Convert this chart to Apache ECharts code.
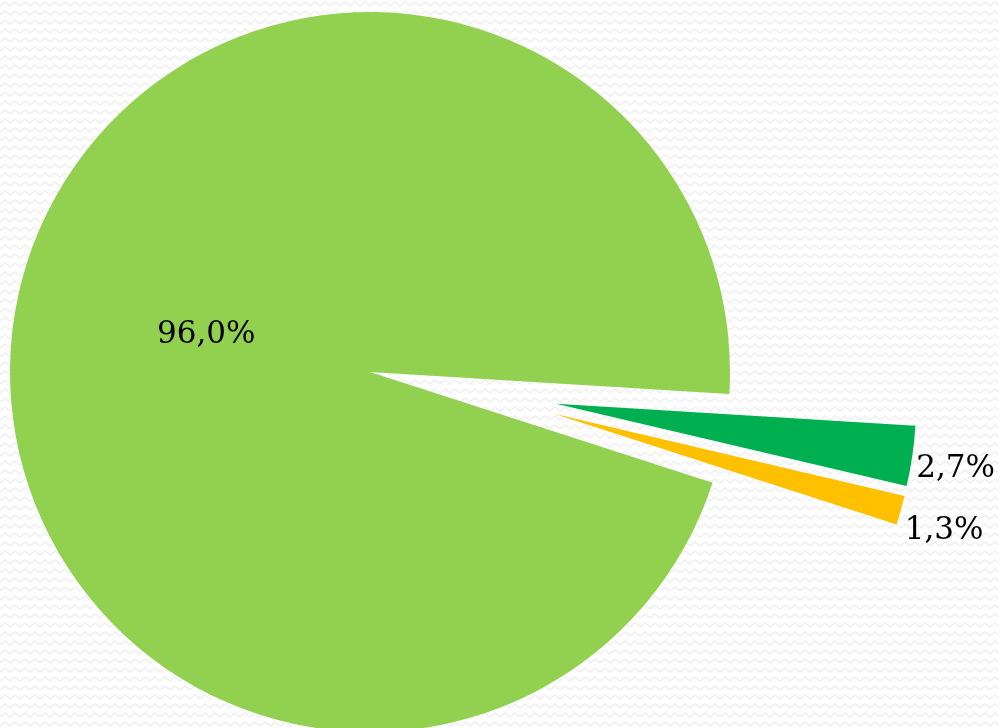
<!DOCTYPE html>
<html>
<head>
<meta charset="utf-8">
<title>Pie</title>
<script src="https://cdn.jsdelivr.net/npm/echarts@6/dist/echarts.min.js"></script>
<style>
  html, body { margin: 0; padding: 0; background: #ffffff; }
  #chart { width: 999px; height: 728px; }
</style>
</head>
<body>
<div id="chart"></div>
<script>
// Shares, in percent
const categories = ['B', 'C', 'A'];
const shares = [2.7, 1.3, 96.0];
const labels = ['2,7%', '1,3%', '96,0%'];
const colors = ['#00B050', '#FFC000', '#92D050'];
// slices pulled out from the centre
const exploded = [true, true, false];

// faint zigzag texture for the page background
function zigzagTile() {
  const c = document.createElement('canvas');
  c.width = 10; c.height = 9;
  const g = c.getContext('2d');
  g.fillStyle = '#ffffff';
  g.fillRect(0, 0, 10, 9);
  g.strokeStyle = '#f0f0f0';
  g.lineWidth = 1.6;
  g.beginPath();
  g.moveTo(-5, 2); g.lineTo(0, 6); g.lineTo(5, 2); g.lineTo(10, 6); g.lineTo(15, 2);
  g.stroke();
  return c;
}

const chart = echarts.init(document.getElementById('chart'), null, { renderer: 'canvas' });

// One ring for the slices that stay in place, one for those pulled out;
// each ring keeps the other's slices as invisible placeholders so the
// angles stay shared.
function ringData(pulled) {
  return categories.map((name, i) => {
    const visible = exploded[i] === pulled;
    return {
      name: name,
      value: shares[i],
      selected: pulled && visible,
      itemStyle: { color: visible ? colors[i] : 'rgba(0,0,0,0)' },
      label: {
        show: visible,
        formatter: labels[i],
        position: pulled ? 'outside' : 'inside'
      }
    };
  });
}

const labelShift = {
  inner: [{ dx: 0, dy: 0 }, { dx: 0, dy: 0 }, { dx: 16, dy: -3 }],
  outer: [{ dx: -3, dy: 13 }, { dx: -3, dy: 20 }, { dx: 0, dy: 0 }]
};

const common = {
  type: 'pie',
  radius: [0, 360],
  startAngle: -3.5,
  clockwise: true,
  silent: true,
  avoidLabelOverlap: false,
  emphasis: { disabled: true },
  label: {
    fontFamily: 'DejaVu Serif',
    fontSize: 31,
    color: '#000000'
  },
  labelLine: { show: false, length: 2, length2: 0 },
  itemStyle: { borderWidth: 0 }
};

chart.setOption({
  backgroundColor: { image: zigzagTile(), repeat: 'repeat' },
  animation: false,
  series: [
    Object.assign({}, common, {
      name: 'main',
      center: [370, 372],
      selectedMode: false,
      data: ringData(false),
      labelLayout: (p) => labelShift.inner[p.dataIndex]
    }),
    Object.assign({}, common, {
      name: 'pulled',
      center: [476, 392],
      selectedMode: 'multiple',
      selectedOffset: 81,
      data: ringData(true),
      labelLayout: (p) => labelShift.outer[p.dataIndex]
    })
  ]
});
</script>
</body>
</html>
